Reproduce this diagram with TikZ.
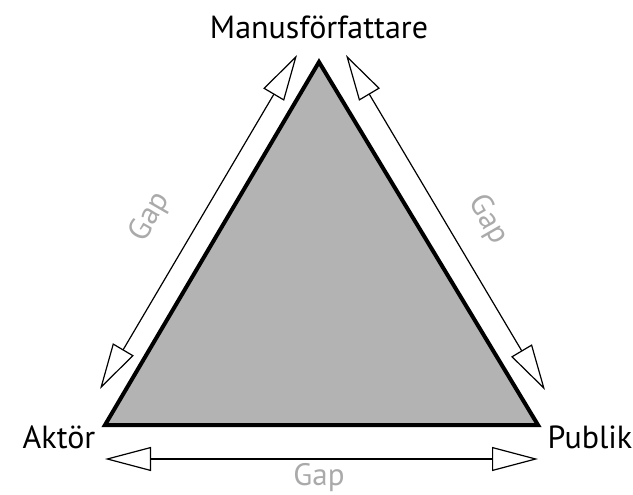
\documentclass[tikz,border=0pt]{standalone}
\usepackage{fontspec}
\setmainfont{PT Sans}
\usetikzlibrary{arrows.meta}
\definecolor{trifill}{HTML}{B3B3B3}
\definecolor{gapgray}{HTML}{AAAAAA}
\begin{document}
\begin{tikzpicture}[x=1pt,y=-1pt,
  lbl/.style={font=\fontsize{32}{34}\selectfont, inner sep=0pt},
  gaplbl/.style={font=\fontsize{31}{33}\selectfont, text=gapgray, inner sep=0pt},
  gaparrow/.style={line width=1.2pt, {Triangle[open,length=46pt,width=24pt]}-{Triangle[open,length=46pt,width=24pt]}}]
\useasboundingbox (0,0) rectangle (633,495);
\coordinate (top) at (319,62);
\coordinate (bl) at (105,425);
\coordinate (br) at (538,425);
\draw[line width=4pt, fill=trifill, line join=miter] (top) -- (bl) -- (br) -- cycle;
\node[lbl] (m) at (319,27) {Manusförfattare};
\node[lbl] (a) at (59,437) {Aktör};
\node[lbl] (p) at (590,437) {Publik};
\coordinate (l1) at (100,389);
\coordinate (l2) at (297,55);
\coordinate (r1) at (346,55);
\coordinate (r2) at (545,390);
\coordinate (b1) at (105,459);
\coordinate (b2) at (538,459);
\draw[gaparrow] (l1) -- (l2);
\draw[gaparrow] (r1) -- (r2);
\draw[gaparrow] (b1) -- (b2);
\node[gaplbl, rotate=60] (g1) at (150,217) {Gap};
\node[gaplbl, rotate=-60] (g2) at (488,220) {Gap};
\node[gaplbl] (g3) at (319,478) {Gap};
\end{tikzpicture}
\end{document}
